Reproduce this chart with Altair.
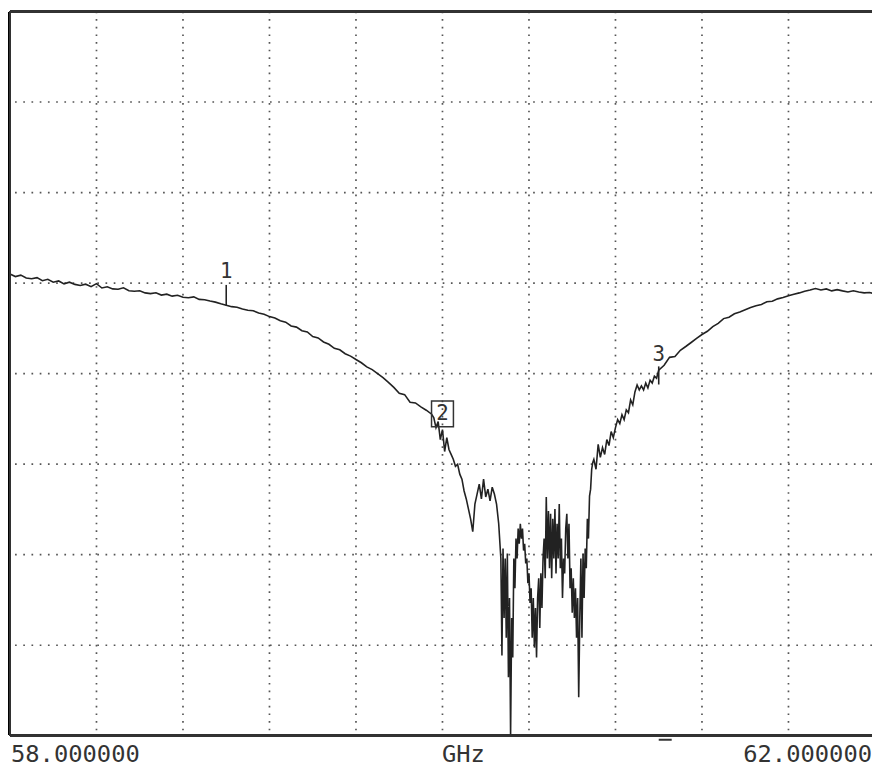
import altair as alt
import pandas as pd

# ---- measured trace (frequency in GHz, level in dB) ----
freq_ghz = [
    58.000, 58.025, 58.050, 58.075, 58.100, 58.125, 58.150, 58.175, 58.200, 58.225,
    58.250, 58.275, 58.300, 58.325, 58.350, 58.375, 58.400, 58.425, 58.450, 58.475,
    58.500, 58.525, 58.550, 58.575, 58.600, 58.625, 58.650, 58.675, 58.700, 58.725,
    58.750, 58.775, 58.800, 58.825, 58.850, 58.875, 58.900, 58.925, 58.950, 58.975,
    59.000, 59.025, 59.050, 59.075, 59.100, 59.125, 59.150, 59.175, 59.200, 59.225,
    59.250, 59.275, 59.300, 59.325, 59.350, 59.375, 59.400, 59.425, 59.450, 59.475,
    59.500, 59.525, 59.550, 59.575, 59.600, 59.625, 59.650, 59.675, 59.700, 59.725,
    59.750, 59.775, 59.800, 59.825, 59.850, 59.875, 59.900, 59.925, 59.950,
    59.96, 59.97, 59.98, 59.99, 60.00, 60.01, 60.02, 60.03, 60.04, 60.05,
    60.06, 60.07, 60.08, 60.09, 60.10, 60.11, 60.12, 60.13, 60.14, 60.15,
    60.16, 60.17, 60.18, 60.19, 60.20, 60.21, 60.22, 60.23, 60.24, 60.25, 60.26,
    60.270, 60.275, 60.280, 60.285, 60.290, 60.295, 60.300, 60.305, 60.310, 60.315,
    60.320, 60.325, 60.330, 60.335, 60.340, 60.345, 60.350, 60.355, 60.360, 60.365,
    60.370, 60.375, 60.380, 60.385, 60.390, 60.395, 60.400, 60.405, 60.410, 60.415,
    60.420, 60.425, 60.430, 60.435, 60.440, 60.445, 60.450, 60.455, 60.460, 60.465,
    60.470, 60.475, 60.480, 60.485, 60.490, 60.495, 60.500, 60.505, 60.510, 60.515,
    60.520, 60.525, 60.530, 60.535, 60.540, 60.545, 60.550, 60.555, 60.560, 60.565,
    60.570, 60.575, 60.580, 60.585, 60.590, 60.595, 60.600, 60.605, 60.610, 60.615,
    60.620, 60.625, 60.630, 60.635, 60.640, 60.645, 60.650, 60.655, 60.660, 60.665,
    60.670, 60.675, 60.680, 60.685, 60.690, 60.695, 60.700,
    60.71, 60.72, 60.73, 60.74, 60.75, 60.76, 60.77, 60.78, 60.79, 60.80,
    60.81, 60.82, 60.83, 60.84, 60.85, 60.86, 60.87, 60.88, 60.89, 60.90,
    60.91, 60.92, 60.93, 60.94, 60.95, 60.96, 60.97, 60.98, 60.99, 61.00,
    61.025, 61.050, 61.075, 61.100, 61.125, 61.150, 61.175, 61.200, 61.225, 61.250,
    61.275, 61.300, 61.325, 61.350, 61.375, 61.400, 61.425, 61.450, 61.475, 61.500,
    61.525, 61.550, 61.575, 61.600, 61.625, 61.650, 61.675, 61.700, 61.725, 61.750,
    61.775, 61.800, 61.825, 61.850, 61.875, 61.900, 61.925, 61.950, 61.975, 62.000,
]

level_db = [
    -4.50, -4.64, -4.56, -4.72, -4.76, -4.70, -4.87, -4.79, -4.95, -4.88,
    -5.04, -4.95, -5.07, -5.13, -5.06, -5.20, -5.03, -5.27, -5.20, -5.32,
    -5.34, -5.26, -5.42, -5.45, -5.42, -5.54, -5.58, -5.53, -5.66, -5.61,
    -5.72, -5.67, -5.78, -5.81, -5.76, -5.90, -5.92, -5.99, -6.05, -6.14,
    -6.22, -6.30, -6.33, -6.43, -6.50, -6.53, -6.65, -6.72, -6.85, -6.93,
    -7.08, -7.16, -7.37, -7.43, -7.63, -7.70, -7.95, -8.03, -8.25, -8.38,
    -8.60, -8.68, -8.90, -9.03, -9.22, -9.40, -9.63, -9.78, -10.00, -10.22,
    -10.48, -10.76, -11.08, -11.16, -11.58, -11.62, -11.84, -12.02, -12.24,
    -12.44, -12.98, -12.65, -13.64, -13.09, -14.30, -13.53, -14.19, -14.46, -14.73,
    -15.12, -15.01, -15.55, -15.83, -16.48, -16.92, -17.47, -18.02, -18.73, -17.20,
    -16.65, -16.10, -16.92, -15.83, -16.81, -16.38, -17.03, -16.27, -16.65, -17.20, -18.29,
    -20.21, -25.57, -19.66, -23.49, -20.21, -24.58, -19.93, -26.77, -22.39, -30.00,
    -23.49, -25.68, -20.21, -21.85, -19.11, -20.21, -18.56, -19.39, -18.29, -19.11,
    -18.56, -19.77, -19.39, -20.48, -20.21, -21.57, -21.03, -22.67, -21.85, -24.58,
    -22.39, -25.13, -22.94, -25.68, -22.39, -21.30, -24.04, -21.03, -22.94, -20.21,
    -19.11, -21.30, -16.81, -20.21, -17.58, -20.75, -17.74, -21.30, -18.02, -20.21,
    -17.47, -21.03, -18.29, -20.21, -17.20, -20.75, -19.11, -22.39, -20.21, -21.03,
    -18.56, -17.74, -20.21, -18.29, -21.85, -20.75, -23.21, -21.30, -23.49, -21.85,
    -24.58, -22.39, -27.87, -23.49, -20.21, -24.58, -19.93, -22.39, -19.66, -20.75,
    -18.02, -19.11, -16.76, -16.38, -15.28, -14.90, -14.73,
    -15.28, -13.91, -14.62, -14.08, -14.46, -13.64, -13.97, -13.20, -13.53, -12.98,
    -12.54, -12.76, -12.27, -12.54, -12.00, -12.16, -11.45, -11.72, -11.01, -10.63,
    -10.90, -10.68, -10.90, -10.52, -10.79, -10.36, -10.52, -10.14, -10.25, -9.81,
    -9.54, -9.10, -9.05, -8.71, -8.50, -8.28, -8.05, -7.84, -7.66, -7.40,
    -7.22, -6.96, -6.88, -6.69, -6.60, -6.47, -6.35, -6.25, -6.18, -6.03,
    -6.00, -5.87, -5.80, -5.70, -5.62, -5.54, -5.45, -5.38, -5.30, -5.38,
    -5.32, -5.43, -5.36, -5.43, -5.49, -5.42, -5.49, -5.54, -5.52, -5.60,
]

# markers
marker_freq = [59.0, 60.0, 61.0]
marker_text = ["1", "2", "3"]
marker_text_db = [-4.40, -12.22, -8.95]
tick_freq = [59.0, 61.0]
tick_top_db = [-5.10, -9.60]
tick_bottom_db = [-6.25, -10.60]

# grid / scale
x_start, x_stop = 58.0, 62.0
grid_x = [58.4, 58.8, 59.2, 59.6, 60.0, 60.4, 60.8, 61.2, 61.6]
grid_y = [-25, -20, -15, -10, -5, 0, 5]
start_label = "58.000000"
center_label = "GHz"
stop_label = "62.000000"

W, H = 870, 731
FONT = "DejaVu Sans Mono"
INK = "#222222"

trace = pd.DataFrame({"f": freq_ghz, "db": level_db})
markers = pd.DataFrame({"f": marker_freq, "t": marker_text, "db": marker_text_db})
ticks = pd.DataFrame({"f": tick_freq, "top": tick_top_db, "bot": tick_bottom_db})
gx = pd.DataFrame({"f": grid_x})
gy = pd.DataFrame({"db": grid_y})

xs = alt.Scale(domain=[x_start, x_start + (x_stop - x_start) * W / 873.0], nice=False, zero=False)
ys = alt.Scale(domain=[-30, 10], nice=False, zero=False)
NOAX = alt.Axis(labels=False, ticks=False, domain=False, grid=False, title=None)

grid_v = alt.Chart(gx).mark_rule(color="#555555", strokeWidth=1.7, strokeDash=[1.7, 6.0]).encode(
    x=alt.X("f:Q", scale=xs, axis=NOAX))
grid_h = alt.Chart(gy).mark_rule(color="#555555", strokeWidth=1.7, strokeDash=[1.7, 6.6]).encode(
    y=alt.Y("db:Q", scale=ys, axis=NOAX))

line = alt.Chart(trace).mark_line(color=INK, strokeWidth=1.6).encode(
    x=alt.X("f:Q", scale=xs, axis=NOAX),
    y=alt.Y("db:Q", scale=ys, axis=NOAX),
)

frame_left = alt.Chart(trace).mark_rule(color="#333333", strokeWidth=2).encode(
    x=alt.value(0), y=alt.value(0), y2=alt.value(H))
frame_top = alt.Chart(trace).mark_rule(color="#333333", strokeWidth=2).encode(
    x=alt.value(0), x2=alt.value(W), y=alt.value(0))
frame_bottom = alt.Chart(trace).mark_rule(color="#333333", strokeWidth=2).encode(
    x=alt.value(0), x2=alt.value(W), y=alt.value(H))

tick_rules = alt.Chart(ticks).mark_rule(color=INK, strokeWidth=1.6).encode(
    x=alt.X("f:Q", scale=xs, axis=NOAX),
    y=alt.Y("top:Q", scale=ys, axis=NOAX),
    y2="bot:Q",
)

marker_labels = alt.Chart(markers).mark_text(
    font=FONT, fontSize=21, color="#333333", baseline="middle", align="center"
).encode(
    x=alt.X("f:Q", scale=xs, axis=NOAX),
    y=alt.Y("db:Q", scale=ys, axis=NOAX),
    text="t:N",
)

box_path = "M-0.85,-1L0.85,-1L0.85,1L-0.85,1Z"
active_box = alt.Chart(markers[markers["t"] == "2"]).mark_point(
    shape=box_path, size=676, filled=False, color="#333333", strokeWidth=1.5, opacity=1
).encode(
    x=alt.X("f:Q", scale=xs, axis=NOAX),
    y=alt.Y("db:Q", scale=ys, axis=NOAX),
)

labels_df = pd.DataFrame({"t": [start_label, center_label, stop_label],
                          "px": [1, 436, 870],
                          "al": ["left", "left", "right"]})
bottom_left = alt.Chart(labels_df.iloc[:2]).mark_text(
    font=FONT, fontSize=24, color="#333333", align="left", baseline="bottom"
).encode(x=alt.X("px:Q", scale=None, axis=None), y=alt.value(762), text="t:N")
bottom_right = alt.Chart(labels_df.iloc[2:]).mark_text(
    font=FONT, fontSize=24, color="#333333", align="right", baseline="bottom"
).encode(x=alt.X("px:Q", scale=None, axis=None), y=alt.value(762), text="t:N")

stim_dash = alt.Chart(pd.DataFrame({"a": [61.0], "b": [61.06]})).mark_rule(
    color="#333333", strokeWidth=2).encode(
    x=alt.X("a:Q", scale=xs, axis=NOAX), x2="b:Q", y=alt.value(735))

chart = alt.layer(
    grid_v, grid_h, line, tick_rules, marker_labels, active_box,
    frame_left, frame_top, frame_bottom, bottom_left, bottom_right, stim_dash
).properties(
    width=W, height=H,
    autosize=alt.AutoSizeParams(type="none"),
    padding={"left": 2, "top": 0, "right": 0, "bottom": 31},
    background="white",
).configure_view(strokeWidth=0)

chart.save("out.html", embed_options={"renderer": "svg", "actions": False})
